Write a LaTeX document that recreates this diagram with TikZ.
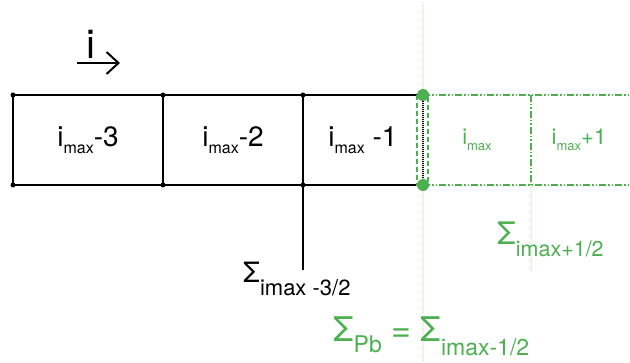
\documentclass[tikz,border=0pt]{standalone}
\usepackage{fontspec}
\setmainfont{TeX Gyre Heros}
\usetikzlibrary{positioning, arrows.meta, calc}
\definecolor{fluxg}{HTML}{4CAF50}
\definecolor{guide}{HTML}{DDEEDD}
\newcommand{\fsz}[1]{\fontsize{#1}{#1}\selectfont}
\newcommand{\lowsub}[3]{\raisebox{-#2}{\fsz{#1}#3}}
\tikzset{
  cell/.style={draw, line width=1.2pt, minimum height=90pt, inner sep=0pt,
               outer sep=0pt, font=\fsz{28}},
  gcell/.style={minimum height=90pt, inner sep=0pt, outer sep=0pt,
                font=\fsz{22}, text=fluxg},
  gline/.style={fluxg, line width=1.3pt,
                dash pattern=on 7pt off 2pt on 1.5pt off 2pt on 1.5pt off 2pt},
  gdash/.style={fluxg, line width=1.3pt, dash pattern=on 5pt off 3pt},
  guideline/.style={guide, line width=1.2pt, dash pattern=on 1pt off 1pt},
  bdot/.style={circle, fill=black, inner sep=0pt, minimum size=5pt},
  gdot/.style={circle, fill=fluxg, inner sep=0pt, minimum size=12pt},
  sumlab/.style={inner sep=0pt, anchor=base west},
}

\begin{document}
\begin{tikzpicture}[x=1pt, y=1pt]
  \useasboundingbox (0,0) rectangle (630,362);

  % --- direction of i ------------------------------------------------
  \node[font=\fsz{40}, inner sep=0pt, anchor=base] (idir) at (90.5,303) {i};
  \coordinate (a0) at (77,299);
  \coordinate (a1) at (120,299);
  \draw[-{Straight Barb[length=12pt,width=22pt]}, line width=2pt] (a0) -- (a1);

  % --- interior cells -------------------------------------------------
  \node[cell, minimum width=150pt] (c3) at (88,222)
        {i\lowsub{16pt}{7pt}{max}-3};
  \node[cell, minimum width=140pt, right=0pt of c3] (c2)
        {i\lowsub{16pt}{7pt}{max}-2};
  \node[cell, minimum width=120pt, right=0pt of c2] (c1)
        {i\lowsub{16pt}{7pt}{max} -1};

  % --- ghost cells ----------------------------------------------------
  \node[gcell, minimum width=108pt, right=0pt of c1] (cm)
        {i\lowsub{13pt}{6pt}{max}};
  \node[gcell, minimum width=108pt, right=0pt of cm] (cp)
        {\hspace*{-12pt}i\lowsub{13pt}{6pt}{max}+1};

  % faint guides
  \coordinate (gtop) at (423,358);
  \coordinate (gbot) at (423,0);
  \coordinate (gend) at (531,90);
  \draw[guideline] (gtop) -- (gbot);
  \draw[guideline] (cm.south east) -- (gend);

  \draw[gline] (c1.north east) -- (cp.north east);
  \draw[gline] (c1.south east) -- (cp.south east);
  \draw[gline] (cm.north east) -- (cm.south east);
  \draw[gdash] ($(c1.north east)+(-6,0)$) rectangle ($(c1.south east)+(5,0)$);

  % corner dots
  \foreach \c in {c3,c2,c1} {
    \node[bdot] (\c-nw) at (\c.north west) {};
    \node[bdot] (\c-sw) at (\c.south west) {};
  }
  \node[gdot] (bn) at (c1.north east) {};
  \node[gdot] (bs) at (c1.south east) {};

  % --- fluxes ---------------------------------------------------------
  \coordinate (f1) at (303,92);
  \draw[line width=1.2pt] (c1.south west) -- (f1);
  \node[sumlab, font=\fsz{28}] (s1) at (243,79)
        {Σ\lowsub{22pt}{13pt}{imax -3/2}};
  \node[sumlab, font=\fsz{31}, text=fluxg] (s2) at (497,117)
        {Σ\lowsub{21.5pt}{12pt}{imax+1/2}};
  \node[sumlab, font=\fsz{34}, text=fluxg] (s3) at (333,20)
        {Σ\lowsub{23pt}{11pt}{Pb} = Σ\lowsub{23pt}{14pt}{imax-1/2}};

\end{tikzpicture}
\end{document}
